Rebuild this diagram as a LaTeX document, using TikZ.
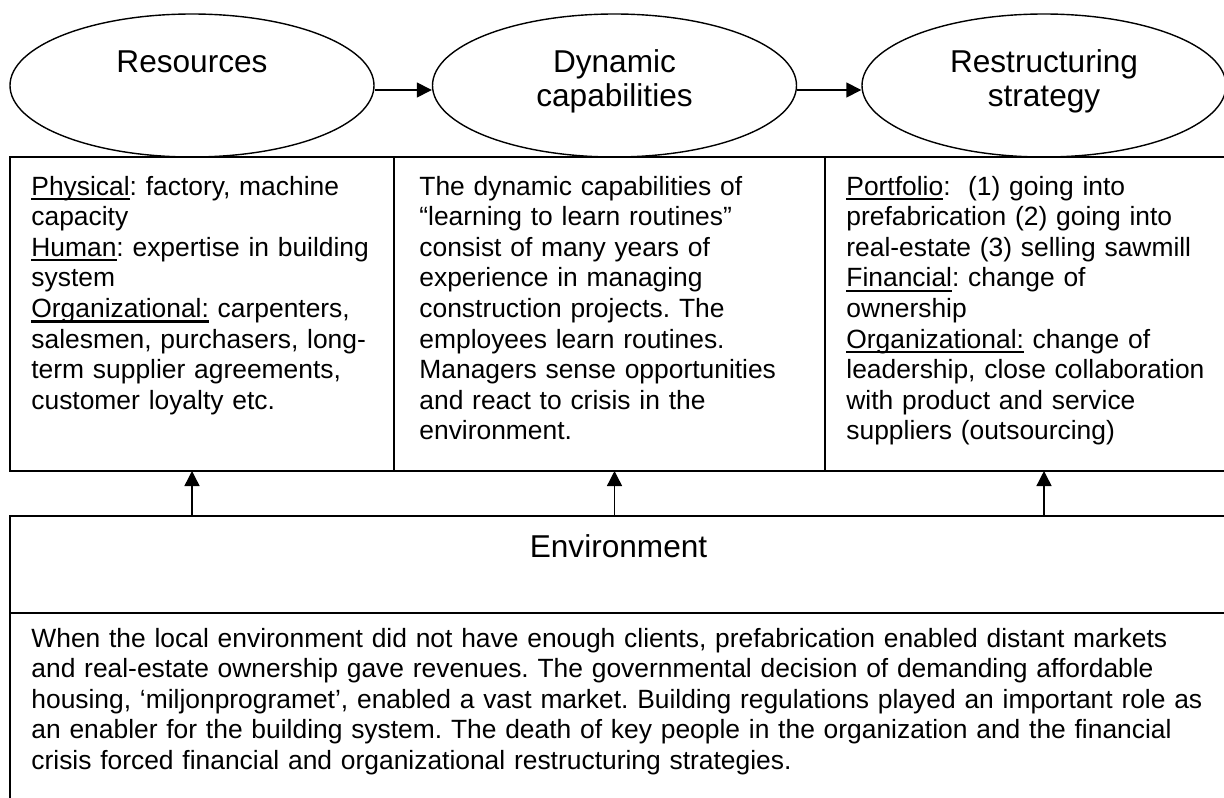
\documentclass[tikz,border=0pt]{standalone}
\usepackage{fontspec}
\setmainfont{Liberation Sans}
\usepackage{tikz}
\usetikzlibrary{positioning}
\usetikzlibrary{shapes}
\usetikzlibrary{arrows.meta}
\frenchspacing
% underline with a heavier rule than \underline gives
\newcommand{\undr}[1]{\leavevmode\setbox0\hbox{#1}\rlap{\rule[-2.6pt]{\wd0}{1.2pt}}#1}
\tikzset{
   oval/.style = {%
    shape=ellipse,
    draw,
    line width=0.7pt,
    minimum width=182pt,
    minimum height=71.5pt,
    inner sep=0pt},
   title/.style = {%
    anchor=base,
    text width=175pt,
    align=center,
    inner sep=0pt,
    font=\fontsize{15.8}{17}\selectfont},
   cell/.style = {%
    shape=rectangle,
    draw,
    line width=0.7pt,
    inner sep=0pt, outer sep=0pt,
    anchor=north west},
   envcell/.style = {cell, line width=1.1pt},% <-- heavier frame
   body/.style = {%
    anchor=base west,
    align=left,
    inner sep=0pt,
    font=\fontsize{13.2}{15.3}\selectfont},
   arrow/.style = {%
    draw,
    line width=0.7pt,
    -{Triangle[length=7.5pt,width=7.5pt]}},
}

\begin{document}
\begin{tikzpicture}[x=0.5pt,y=-0.5pt]
    \useasboundingbox (0,0) rectangle (1224,797);
    \clip (0,0) rectangle (1224,797);

    % top row: the three concepts
    \node[oval] (res)  at (192,85.5)  {};
    \node[oval] (dyn)  at (614.5,85.5) {};
    \node[oval] (stra) at (1044,85.5) {};
    \node[title] (res-t)  at (192,73)    {Resources};
    \node[title] (dyn-t)  at (614.5,73)  {Dynamic\\capabilities};
    \node[title] (stra-t) at (1044,73)   {Restructuring\\strategy};
    \draw[arrow] ([yshift=-2.25pt]res.east) -- ([yshift=-2.25pt]dyn.west);
    \draw[arrow] ([yshift=-2.25pt]dyn.east) -- ([yshift=-2.25pt]stra.west);

    % description cells
    \node[cell, minimum width=192pt, minimum height=157pt] (resbox) at (10,157) {};
    \node[cell, minimum width=215.5pt, minimum height=157pt, right=0pt of resbox] (dynbox) {};
    \node[cell, minimum width=201pt, minimum height=157pt, right=0pt of dynbox] (strabox) {};

    \node[body, text width=185pt] (res-d) at (31,195) {%
        \undr{Physical}: factory, machine\\
        capacity\\
        \undr{Human}: expertise in building\\
        system\\
        \undr{Organizational:} carpenters,\\
        salesmen, purchasers, long-\\
        term supplier agreements,\\
        customer loyalty etc.};
    \node[body, text width=205pt] (dyn-d) at (419,195) {%
        The dynamic capabilities of\\
        “learning to learn routines”\\
        consist of many years of\\
        experience in managing\\
        construction projects. The\\
        employees learn routines.\\
        Managers sense opportunities\\
        and react to crisis in the\\
        environment.};
    \node[body, text width=190pt] (stra-d) at (846,195) {%
        \undr{Portfolio}:~ (1) going into\\
        prefabrication (2) going into\\
        real-estate (3) selling sawmill\\
        \undr{Financial}: change of\\
        ownership\\
        \undr{Organizational:} change of\\
        leadership, close collaboration\\
        with product and service\\
        suppliers (outsourcing)};

    % environment
    \node[envcell, minimum width=608.5pt, minimum height=48.5pt] (envhead) at (10,516) {};
    \node[envcell, minimum width=608.5pt, minimum height=110pt, below=0pt of envhead] (envbody) {};
    \node[title] (env-t) at (618.5,557) {Environment};
    \node[body, text width=600pt] (env-d) at (31,647) {%
        When the local environment did not have enough clients, prefabrication enabled distant markets\\
        and real-estate ownership gave revenues. The governmental decision of demanding affordable\\
        housing, ‘miljonprogramet’, enabled a vast market. Building regulations played an important role as\\
        an enabler for the building system. The death of key people in the organization and the financial\\
        crisis forced financial and organizational restructuring strategies.};

    \draw[arrow] (res |- envhead.north)  -- (res |- resbox.south);
    \draw[arrow] (dyn |- envhead.north)  -- (dyn |- dynbox.south);
    \draw[arrow] (stra |- envhead.north) -- (stra |- strabox.south);
\end{tikzpicture}
\end{document}
